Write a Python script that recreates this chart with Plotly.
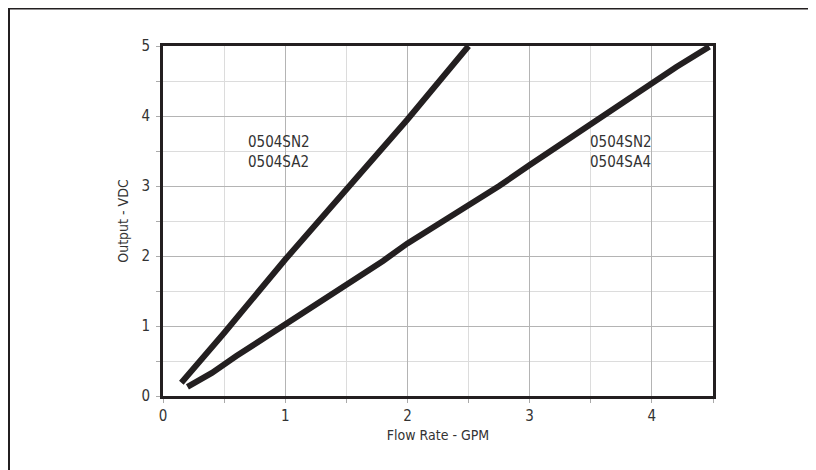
import plotly.graph_objects as go

# Data
steep_x = [0.15, 0.5, 1.0, 1.5, 2.0, 2.5]
steep_y = [0.19, 0.90, 1.95, 2.95, 3.95, 5.0]

shallow_x = [0.2, 0.4, 0.6, 1.0, 1.5, 1.8, 2.0, 2.5, 2.75, 3.0, 3.5, 4.0, 4.2, 4.47]
shallow_y = [0.13, 0.33, 0.57, 1.02, 1.58, 1.93, 2.18, 2.72, 3.0, 3.3, 3.88, 4.48, 4.7, 4.99]

labels = ["0504SN2<br>0504SA2", "0504SN2<br>0504SA4"]
label_x = [0.95, 3.75]
label_y = [3.49, 3.49]

x_title = "Flow Rate - GPM"
y_title = "Output - VDC"

FONT = "DejaVu Sans Condensed, Liberation Sans Narrow, sans-serif"
LINE = "#231f20"
TXT = "#333333"

fig = go.Figure()
fig.add_trace(go.Scatter(x=steep_x, y=steep_y, mode="lines",
                         line=dict(color=LINE, width=6), showlegend=False))
fig.add_trace(go.Scatter(x=shallow_x, y=shallow_y, mode="lines",
                         line=dict(color=LINE, width=6), showlegend=False))

for t, x, y in zip(labels, label_x, label_y):
    fig.add_annotation(x=x, y=y, text=t, showarrow=False, align="left",
                       font=dict(family=FONT, size=15, color=TXT))

axis_common = dict(
    showline=True, linecolor=LINE, linewidth=3, mirror=True,
    showgrid=True, gridcolor="#b4b4b4", gridwidth=1,
    ticks="outside", ticklen=4, tickcolor="#aaaaaa", tickwidth=1,
    zeroline=False,
    tickfont=dict(family=FONT, size=15, color=TXT),
    minor=dict(dtick=0.5, showgrid=True, gridcolor="#dcdcdc", gridwidth=1,
               ticks="outside", ticklen=4, tickcolor="#aaaaaa"),
)

fig.update_xaxes(range=[0, 4.5], dtick=1, tick0=0,
                 title=dict(text=x_title, font=dict(family=FONT, size=14, color=TXT),
                            standoff=7),
                 **axis_common)
fig.update_yaxes(range=[0, 5], dtick=1, tick0=0, ticklabelstandoff=3,
                 title=dict(text=y_title, font=dict(family=FONT, size=14, color=TXT),
                            standoff=10),
                 **axis_common)

# outer frame (top and left edges visible in the reference)
fig.add_shape(type="path", xref="paper", yref="paper",
              path="M 1.3,1.1071 L -0.28,1.1071 L -0.28,-0.3",
              line=dict(color=LINE, width=2))

fig.update_layout(
    width=816, height=470,
    margin=dict(l=155, r=111, t=38, b=82),
    paper_bgcolor="white", plot_bgcolor="white",
    font=dict(family=FONT),
)

fig.write_html("out.html")
